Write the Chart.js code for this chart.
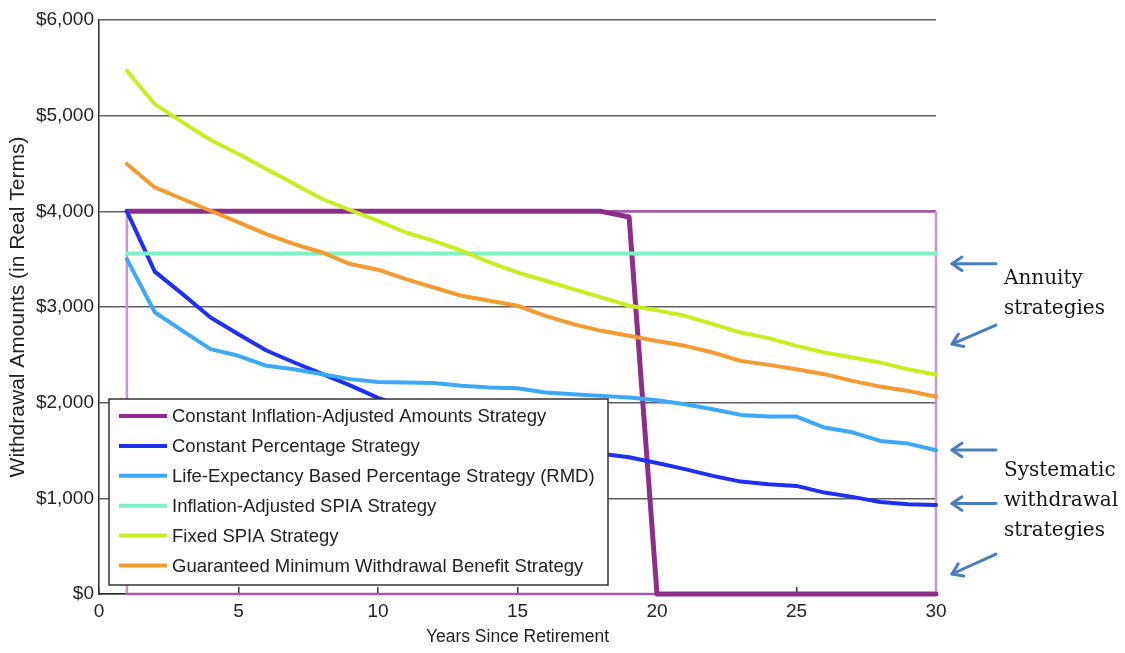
<!DOCTYPE html>
<html>
<head>
<meta charset="utf-8">
<title>Withdrawal Amounts by Strategy</title>
<script src="https://cdn.jsdelivr.net/npm/chart.js@4/dist/chart.umd.min.js"></script>
<style>
  html, body { margin: 0; padding: 0; background: #ffffff; }
  canvas { display: block; }
</style>
</head>
<body>
<canvas id="chart" width="1125" height="653"></canvas>
<script>
// Years since retirement
const years = [1, 2, 3, 4, 5, 6, 7, 8, 9, 10, 11, 12, 13, 14, 15, 16, 17, 18, 19, 20, 21, 22, 23, 24, 25, 26, 27, 28, 29, 30];

// Annual withdrawal amounts (real dollars) for each strategy
const constantInflationAdjusted = [4000, 4000, 4000, 4000, 4000, 4000, 4000, 4000, 4000, 4000, 4000, 4000, 4000, 4000, 4000, 4000, 4000, 4000, 3940, 0, 0, 0, 0, 0, 0, 0, 0, 0, 0, 0];
const constantPercentage = [4000, 3370, 3135, 2890, 2715, 2545, 2420, 2300, 2180, 2050, 1950, 1860, 1770, 1690, 1620, 1560, 1510, 1465, 1430, 1370, 1305, 1235, 1175, 1147, 1130, 1060, 1015, 962, 938, 931];
const lifeExpectancyRmd = [3500, 2945, 2750, 2560, 2490, 2385, 2350, 2298, 2246, 2215, 2210, 2205, 2176, 2158, 2150, 2106, 2089, 2071, 2054, 2026, 1984, 1932, 1872, 1855, 1855, 1740, 1690, 1600, 1572, 1503];
const inflationAdjustedSpia = [3560, 3560, 3560, 3560, 3560, 3560, 3560, 3560, 3560, 3560, 3560, 3560, 3560, 3560, 3560, 3560, 3560, 3560, 3560, 3560, 3560, 3560, 3560, 3560, 3560, 3560, 3560, 3560, 3560, 3560];
const fixedSpia = [5470, 5120, 4930, 4746, 4599, 4442, 4286, 4129, 4014, 3900, 3779, 3692, 3588, 3466, 3361, 3274, 3187, 3100, 3013, 2965, 2908, 2821, 2733, 2675, 2594, 2524, 2472, 2419, 2350, 2291];
const gmwb = [4495, 4250, 4129, 4006, 3884, 3762, 3658, 3570, 3449, 3390, 3292, 3204, 3117, 3065, 3013, 2908, 2821, 2751, 2699, 2645, 2594, 2524, 2437, 2395, 2350, 2298, 2228, 2168, 2123, 2061];

// Outline of the constant-amount plan window (years 1–30, up to $4,000)
const frameYears = [1, 1, 30, 30, 1];
const frameAmounts = [0, 4000, 4000, 0, 0];

// Axis tick labels
const yTickLabels = ['$0', '$1,000', '$2,000', '$3,000', '$4,000', '$5,000', '$6,000'];

const seriesNames = [
  'Constant Inflation-Adjusted Amounts Strategy',
  'Constant Percentage Strategy',
  'Life-Expectancy Based Percentage Strategy (RMD)',
  'Inflation-Adjusted SPIA Strategy',
  'Fixed SPIA Strategy',
  'Guaranteed Minimum Withdrawal Benefit Strategy'
];
const seriesColors = ['#8e2e8c', '#1f30f0', '#3ca8f6', '#7ef2c4', '#c6ef22', '#f39b30'];

// Side notes with arrows (anchored on the amount axis)
const arrowAnchors = [
  { from: 3452, to: 3452 },
  { from: 2811, to: 2612 },
  { from: 1506, to: 1506 },
  { from: 945, to: 945 },
  { from: 418, to: 209 }
];
const sideNotes = [
  { lines: ['Annuity', 'strategies'], baseline: 3243 },
  { lines: ['Systematic', 'withdrawal', 'strategies'], baseline: 1234 }
];

const toPoints = (xs, ys) => xs.map((x, i) => ({ x: x, y: ys[i] }));

const allSeries = [constantInflationAdjusted, constantPercentage, lifeExpectancyRmd, inflationAdjustedSpia, fixedSpia, gmwb];

const datasets = allSeries.map((vals, i) => ({
  label: seriesNames[i],
  inKey: true,
  data: toPoints(years, vals),
  borderColor: seriesColors[i],
  backgroundColor: seriesColors[i],
  borderWidth: i === 0 ? 5 : 4,
  pointRadius: 0,
  tension: 0,
  fill: false,
  clip: false,
  borderJoinStyle: 'round',
  borderCapStyle: 'round',
  order: 6 - i
}));

datasets.push({
  label: 'frame',
  inKey: false,
  data: toPoints(frameYears, frameAmounts),
  borderColor: '#a65aae',
  borderWidth: 2.5,
  pointRadius: 0,
  tension: 0,
  fill: false,
  clip: false,
  order: 10,
  segment: {
    borderColor: ctx => ctx.p0.parsed.x === ctx.p1.parsed.x ? '#c596d4' : '#a65aae'
  }
});

const SANS = "'Liberation Sans', Arial, Helvetica, sans-serif";
const SERIF = "'DejaVu Serif', 'Liberation Serif', serif";

// Key box drawn inside the plot, over the lines
const keyBox = {
  id: 'keyBox',
  afterDatasetsDraw(chart) {
    const { ctx, chartArea } = chart;
    const items = chart.data.datasets.filter(d => d.inKey);
    const rowH = 29.9;
    const left = chartArea.left + 10;
    const width = 499;
    const height = 186;
    const top = chartArea.bottom - 9 - height;
    ctx.save();
    ctx.fillStyle = '#ffffff';
    ctx.fillRect(left, top, width, height);
    ctx.strokeStyle = '#333333';
    ctx.lineWidth = 1.5;
    ctx.strokeRect(left, top, width, height);
    ctx.font = '18.5px ' + SANS;
    ctx.textBaseline = 'middle';
    ctx.textAlign = 'left';
    items.forEach((d, i) => {
      const y = top + 17 + i * rowH;
      ctx.strokeStyle = d.borderColor;
      ctx.lineWidth = 4;
      ctx.lineCap = 'butt';
      ctx.beginPath();
      ctx.moveTo(left + 10, y);
      ctx.lineTo(left + 58, y);
      ctx.stroke();
      ctx.fillStyle = '#222222';
      ctx.fillText(d.label, left + 63, y + 1);
    });
    ctx.restore();
  }
};

// Arrows and notes to the right of the plot
const sideNotesPlugin = {
  id: 'sideNotes',
  afterDraw(chart) {
    const { ctx, chartArea } = chart;
    const yScale = chart.scales.y;
    const tipX = chartArea.right + 16;
    const tailX = chartArea.right + 60;
    ctx.save();
    ctx.strokeStyle = '#4a7ebb';
    ctx.lineWidth = 3;
    ctx.lineCap = 'round';
    ctx.lineJoin = 'round';
    arrowAnchors.forEach(a => {
      const y0 = yScale.getPixelForValue(a.from);
      const y1 = yScale.getPixelForValue(a.to);
      const ang = Math.atan2(y1 - y0, tipX - tailX);
      const head = 12;
      ctx.beginPath();
      ctx.moveTo(tailX, y0);
      ctx.lineTo(tipX, y1);
      ctx.stroke();
      ctx.beginPath();
      ctx.moveTo(tipX - head * Math.cos(ang - 0.6), y1 - head * Math.sin(ang - 0.6));
      ctx.lineTo(tipX, y1);
      ctx.lineTo(tipX - head * Math.cos(ang + 0.6), y1 - head * Math.sin(ang + 0.6));
      ctx.stroke();
    });
    ctx.fillStyle = '#151515';
    ctx.font = '20px ' + SERIF;
    ctx.textAlign = 'left';
    ctx.textBaseline = 'alphabetic';
    sideNotes.forEach(n => {
      const base = yScale.getPixelForValue(n.baseline);
      n.lines.forEach((line, i) => {
        ctx.fillText(line, chartArea.right + 68, base + i * 30);
      });
    });
    ctx.restore();
  }
};

new Chart(document.getElementById('chart'), {
  type: 'line',
  data: { datasets: datasets },
  plugins: [keyBox, sideNotesPlugin],
  options: {
    responsive: false,
    devicePixelRatio: 1,
    animation: false,
    layout: { padding: { top: 20, right: 189, bottom: 0, left: 0 } },
    plugins: {
      legend: { display: false },
      tooltip: { enabled: false }
    },
    scales: {
      x: {
        type: 'linear',
        min: 0,
        max: 30,
        ticks: {
          stepSize: 5,
          padding: 13,
          color: '#222222',
          font: { family: SANS, size: 19 }
        },
        grid: {
          drawOnChartArea: false,
          drawTicks: true,
          tickLength: -7,
          color: '#333333',
          lineWidth: 1.5
        },
        border: { display: true, color: '#2a2a2a', width: 1.5 },
        title: {
          display: true,
          text: 'Years Since Retirement',
          color: '#222222',
          font: { family: SANS, size: 17.5 },
          padding: { top: 0, bottom: 5 }
        },
        afterFit(scale) { scale.height = 59; }
      },
      y: {
        type: 'linear',
        min: 0,
        max: 6000,
        ticks: {
          stepSize: 1000,
          padding: 5,
          color: '#222222',
          font: { family: SANS, size: 19 },
          callback: (value, index) => yTickLabels[index]
        },
        grid: {
          drawTicks: false,
          color: '#5e5e5e',
          lineWidth: 1.5
        },
        border: { display: true, color: '#2a2a2a', width: 1.5 },
        title: {
          display: true,
          text: 'Withdrawal Amounts (in Real Terms)',
          color: '#222222',
          font: { family: SANS, size: 21 },
          padding: { top: 6, bottom: 0 }
        },
        afterFit(scale) { scale.width = 99; }
      }
    }
  }
});
</script>
</body>
</html>
